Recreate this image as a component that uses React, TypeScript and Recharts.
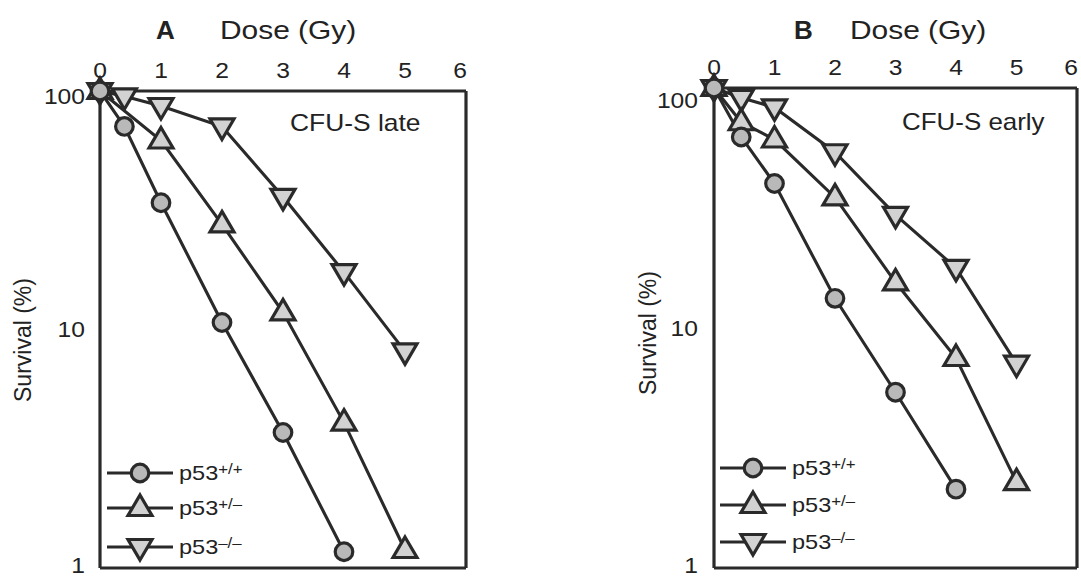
import React from 'react';
import { LineChart, Line, XAxis, YAxis } from 'recharts';

// dose (Gy) and survival (%)
const doseA = [0, 0.4, 1, 2, 3, 4, 5];
const wtA = [100, 71, 34, 10.7, 3.7, 1.17, null];
const hetA = [100, null, 62, 27.6, 11.8, 4.07, 1.19];
const koA = [100, 95, 86.5, 71, 36, 17.4, 8.1];

const doseB = [0, 0.45, 1, 2, 3, 4, 5];
const wtB = [100, 62.5, 40, 13.3, 5.4, 2.13, null];
const hetB = [100, 72, 61, 35, 15.5, 7.5, 2.28];
const koB = [100, 91, 83, 54, 29.6, 17.8, 7.1];

const xTicks = [0, 1, 2, 3, 4, 5, 6];
const xMinorTicks = [
  0.2, 0.4, 0.6, 0.8, 1.2, 1.4, 1.6, 1.8, 2.2, 2.4, 2.6, 2.8,
  3.2, 3.4, 3.6, 3.8, 4.2, 4.4, 4.6, 4.8, 5.2, 5.4, 5.6, 5.8,
];
const yTicks = [1, 10, 100];
const yMinorTicks = [2, 3, 4, 5, 6, 7, 8, 9, 20, 30, 40, 50, 60, 70, 80, 90];

const legendLabels = [
  { shape: 'circle', sup: '+/+' },
  { shape: 'up', sup: '+/\u2013' },
  { shape: 'down', sup: '\u2013/\u2013' },
];

const INK = '#2a2a2a';
const FONT = '"Liberation Sans", Arial, Helvetica, sans-serif';

type Shape = 'circle' | 'up' | 'down';

const Marker = ({ shape, cx, cy }: { shape: Shape; cx: number; cy: number }) => {
  if (shape === 'circle') {
    return <circle cx={cx} cy={cy} r={8.8} fill="#b9b9b9" stroke={INK} strokeWidth={3.2} />;
  }
  const pts =
    shape === 'up'
      ? `${cx},${cy - 13} ${cx + 12},${cy + 7.5} ${cx - 12},${cy + 7.5}`
      : `${cx},${cy + 13} ${cx + 12},${cy - 7.5} ${cx - 12},${cy - 7.5}`;
  return <polygon points={pts} fill="#d2d2d2" stroke={INK} strokeWidth={3.2} />;
};

const dotFor = (shape: Shape) => (p: any) =>
  p.cy == null || p.value == null ? (
    <g key={`e${p.index}`} />
  ) : (
    <Marker key={`d${p.index}`} shape={shape} cx={p.cx} cy={p.cy} />
  );

// the printed labels are a little wider than the font, so stretch them
const XTick = (p: any) => (
  <g transform={`translate(${p.x + (p.payload.value === 6 ? -6 : 0)},${p.y}) scale(1.12,1)`}>
    <text x={0} y={0} textAnchor="middle" fontSize={22} fontFamily={FONT} fill="#222">
      {p.payload.value}
    </text>
  </g>
);

const makeYTick = (topShift: number) => (p: any) => {
  const v = p.payload.value;
  const shift = v === 100 ? topShift : v === 1 ? -3 : 0;
  return (
    <g transform={`translate(${p.x},${p.y + shift}) scale(1.12,1)`}>
      <text x={0} y={0} dy="0.36em" textAnchor="end" fontSize={22} fontFamily={FONT} fill="#222">
        {v}
      </text>
    </g>
  );
};

const frame = { stroke: INK, strokeWidth: 3.2 };
const tickStyle = { stroke: INK, strokeWidth: 2.2 };

// ticks on all four sides pointing inward
const frameAxes = () => [
  <XAxis key="xt1" xAxisId="xt1" type="number" orientation="top" mirror domain={[0, 6]} ticks={xTicks}
    height={1} tick={false} tickSize={6} tickLine={tickStyle} axisLine={false} allowDataOverflow />,
  <XAxis key="xt2" xAxisId="xt2" type="number" orientation="top" mirror domain={[0, 6]} ticks={xMinorTicks}
    height={1} tick={false} tickSize={3} tickLine={tickStyle} axisLine={false} allowDataOverflow />,
  <XAxis key="xb1" xAxisId="xb1" type="number" orientation="bottom" mirror domain={[0, 6]} ticks={xTicks}
    height={1} tick={false} tickSize={6} tickLine={tickStyle} axisLine={frame} allowDataOverflow />,
  <XAxis key="xb2" xAxisId="xb2" type="number" orientation="bottom" mirror domain={[0, 6]} ticks={xMinorTicks}
    height={1} tick={false} tickSize={3} tickLine={tickStyle} axisLine={false} allowDataOverflow />,
  <YAxis key="yl1" yAxisId="yl1" type="number" scale="log" orientation="left" mirror domain={[1, 100]} ticks={yTicks}
    width={1} tick={false} tickSize={7} tickLine={tickStyle} axisLine={false} allowDataOverflow />,
  <YAxis key="yl2" yAxisId="yl2" type="number" scale="log" orientation="left" mirror domain={[1, 100]} ticks={yMinorTicks}
    width={1} tick={false} tickSize={3} tickLine={tickStyle} axisLine={false} allowDataOverflow />,
  <YAxis key="yr1" yAxisId="yr1" type="number" scale="log" orientation="right" mirror domain={[1, 100]} ticks={yTicks}
    width={1} tick={false} tickSize={7} tickLine={tickStyle} axisLine={frame} allowDataOverflow />,
  <YAxis key="yr2" yAxisId="yr2" type="number" scale="log" orientation="right" mirror domain={[1, 100]} ticks={yMinorTicks}
    width={1} tick={false} tickSize={3} tickLine={tickStyle} axisLine={false} allowDataOverflow />,
];

interface PanelProps {
  left: number;
  width: number;
  margin: { top: number; right: number; bottom: number; left: number };
  doses: number[];
  wt: (number | null)[];
  het: (number | null)[];
  ko: (number | null)[];
  yTickMargin: number;
  topShift: number;
}

const Panel: React.FC<PanelProps> = ({ left, width, margin, doses, wt, het, ko, yTickMargin, topShift }) => {
  const table = doses.map((d, i) => ({ dose: d, wt: wt[i], het: het[i], ko: ko[i] }));
  return (
    <div style={{ position: 'absolute', left, top: 0 }}>
      <LineChart width={width} height={578} data={table} margin={margin}>
        <XAxis xAxisId="x" dataKey="dose" type="number" orientation="top" domain={[0, 6]} ticks={xTicks}
          height={1} tickLine={false} tickSize={0} tickMargin={13} axisLine={frame} interval={0}
          tick={<XTick />} />
        <YAxis yAxisId="y" type="number" scale="log" domain={[1, 100]} ticks={yTicks} width={1}
          tickLine={false} tickSize={0} tickMargin={yTickMargin} axisLine={frame} interval={0}
          tick={makeYTick(topShift)} />
        {frameAxes()}
        <Line xAxisId="x" yAxisId="y" dataKey="ko" type="linear" stroke={INK} strokeWidth={3.1}
          connectNulls dot={dotFor('down')} activeDot={false} isAnimationActive={false} />
        <Line xAxisId="x" yAxisId="y" dataKey="het" type="linear" stroke={INK} strokeWidth={3.1}
          connectNulls dot={dotFor('up')} activeDot={false} isAnimationActive={false} />
        <Line xAxisId="x" yAxisId="y" dataKey="wt" type="linear" stroke={INK} strokeWidth={3.1}
          connectNulls dot={dotFor('circle')} activeDot={false} isAnimationActive={false} />
      </LineChart>
    </div>
  );
};

const text = (style: React.CSSProperties): React.CSSProperties => ({
  position: 'absolute',
  fontFamily: FONT,
  color: '#222',
  whiteSpace: 'nowrap',
  transformOrigin: 'left center',
  ...style,
});

const LegendBox = ({ x, rows }: { x: number; rows: number[] }) => (
  <>
    {legendLabels.map((l, i) => (
      <div key={l.shape} style={text({ left: x, top: rows[i] - 14, height: 28, display: 'flex', alignItems: 'center' })}>
        <svg width={66} height={28} style={{ overflow: 'visible' }}>
          <line x1={0} y1={14} x2={66} y2={14} stroke={INK} strokeWidth={3.1} />
          <Marker shape={l.shape as Shape} cx={33} cy={14} />
        </svg>
        <span style={{ fontSize: 21, marginLeft: 6, transform: 'scaleX(1.12)', transformOrigin: 'left center', display: 'inline-block' }}>
          p53<sup style={{ fontSize: 15, verticalAlign: 'top', lineHeight: '15px' }}>{l.sup}</sup>
        </span>
      </div>
    ))}
  </>
);

const YLabel = ({ cx, cy }: { cx: number; cy: number }) => (
  <div style={text({ left: cx - 80, top: cy - 12, width: 160, height: 24, lineHeight: '24px', fontSize: 23,
    textAlign: 'center', transform: 'rotate(-90deg)', transformOrigin: 'center center' })}>
    Survival (%)
  </div>
);

export default function App() {
  return (
    <div style={{ position: 'absolute', left: 0, top: 0, width: 1081, height: 578, background: '#fff', overflow: 'hidden' }}>
      <Panel left={0} width={540} margin={{ top: 90, right: 74, bottom: 10, left: 99 }}
        doses={doseA} wt={wtA} het={hetA} ko={koA} yTickMargin={15} topShift={5} />
      <Panel left={540} width={541} margin={{ top: 87, right: 4, bottom: 10, left: 173 }}
        doses={doseB} wt={wtB} het={hetB} ko={koB} yTickMargin={16} topShift={12} />

      <div style={text({ left: 156, top: 17, fontSize: 26, lineHeight: '26px', fontWeight: 'bold' })}>A</div>
      <div style={text({ left: 220, top: 17, fontSize: 26, lineHeight: '26px', transform: 'scaleX(1.15)' })}>Dose (Gy)</div>
      <div style={text({ left: 794, top: 17, fontSize: 26, lineHeight: '26px', fontWeight: 'bold' })}>B</div>
      <div style={text({ left: 850, top: 17, fontSize: 26, lineHeight: '26px', transform: 'scaleX(1.15)' })}>Dose (Gy)</div>

      <div style={text({ left: 290, top: 111, fontSize: 24, lineHeight: '24px', transform: 'scaleX(1.1)' })}>CFU-S late</div>
      <div style={text({ left: 902, top: 110, fontSize: 24, lineHeight: '24px', transform: 'scaleX(1.08)' })}>CFU-S early</div>

      <YLabel cx={23} cy={340} />
      <YLabel cx={648} cy={333} />

      <LegendBox x={107} rows={[473, 508, 547]} />
      <LegendBox x={720} rows={[468, 505, 542]} />
    </div>
  );
}
